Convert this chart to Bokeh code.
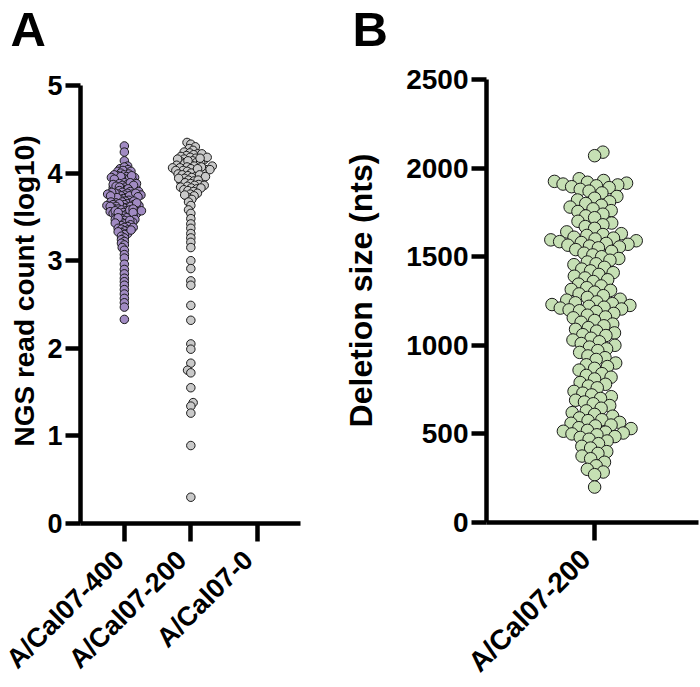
import math
from bokeh.plotting import figure
from bokeh.layouts import row
from bokeh.models import Range1d, FixedTicker, ColumnDataSource, Title, LinearAxis
from bokeh.embed import file_html
from bokeh.resources import INLINE

# ---------------- data ----------------
categories_A = ["A/Cal07-400", "A/Cal07-200", "A/Cal07-0"]
ngs_400 = [4.31, 4.24, 4.14, 4.08, 4.05,
           4.07, 4.04, 4.02, 4.01, 4.03, 4.00, 4.02,
           3.99, 3.98, 3.97, 3.96, 3.95, 3.94, 3.93, 3.92, 3.91, 3.90, 3.98, 3.96, 3.94, 3.92, 3.97, 3.95, 3.93,
           3.89, 3.88, 3.87, 3.86, 3.85, 3.84, 3.83, 3.82, 3.81, 3.80, 3.89, 3.87, 3.85, 3.83, 3.81, 3.88, 3.86, 3.84, 3.82, 3.80,
           3.79, 3.78, 3.77, 3.76, 3.75, 3.74, 3.73, 3.72, 3.71, 3.70, 3.79, 3.77, 3.75, 3.73, 3.71, 3.78, 3.76, 3.74, 3.72, 3.76, 3.74, 3.77, 3.73,
           3.69, 3.68, 3.67, 3.66, 3.65, 3.64, 3.63, 3.62, 3.61, 3.60, 3.68, 3.66, 3.64, 3.62, 3.67, 3.65, 3.63, 3.61, 3.64, 3.66, 3.62, 3.60, 3.62,
           3.59, 3.58, 3.57, 3.56, 3.55, 3.54, 3.53, 3.52, 3.51, 3.50, 3.58, 3.56, 3.54, 3.52, 3.57, 3.55, 3.59, 3.53, 3.51, 3.57, 3.55,
           3.49, 3.48, 3.47, 3.46, 3.45, 3.44, 3.43, 3.42, 3.41, 3.40, 3.47, 3.44, 3.49, 3.46, 3.43, 3.41,
           3.39, 3.38, 3.37, 3.36, 3.35, 3.34, 3.32, 3.31, 3.30, 3.38, 3.35, 3.33,
           3.28, 3.26, 3.24, 3.22, 3.20,
           3.18, 3.15, 3.12,
           3.07, 3.03,
           2.96, 2.90, 2.85, 2.80, 2.76, 2.72, 2.67, 2.62, 2.57, 2.52, 2.47, 2.33]
ngs_200 = [4.35, 4.33, 4.30, 4.28, 4.26,
           4.24, 4.23, 4.22, 4.21, 4.20, 4.22,
           4.19, 4.18, 4.17, 4.16, 4.15, 4.14, 4.13, 4.12, 4.11, 4.10, 4.18, 4.16, 4.14, 4.12, 4.17,
           4.09, 4.08, 4.07, 4.06, 4.05, 4.04, 4.03, 4.02, 4.01, 4.00, 4.08, 4.06, 4.04, 4.02, 4.07, 4.05, 4.03,
           3.99, 3.98, 3.97, 3.96, 3.95, 3.94, 3.93, 3.92, 3.91, 3.90, 3.98, 3.96, 3.94, 3.92,
           3.89, 3.88, 3.87, 3.86, 3.85, 3.84, 3.83, 3.82, 3.81, 3.80, 3.86, 3.83,
           3.79, 3.77, 3.76, 3.74, 3.72, 3.70, 3.75,
           3.67, 3.63, 3.58, 3.54, 3.48, 3.42, 3.37, 3.31, 3.26, 3.21, 3.15, 3.00, 2.91, 2.77, 2.72,
           2.49, 2.32, 2.05, 1.99, 1.83, 1.75, 1.72, 1.55, 1.38, 1.34, 1.26, 0.89, 0.30]
ngs_0 = []
yticks_A = [0, 1, 2, 3, 4, 5]

categories_B = ["A/Cal07-200"]
deletion_200 = [2090, 2070,
                1940, 1930, 1925, 1920, 1915, 1910, 1905, 1900, 1895, 1890, 1880, 1870, 1860,
                1840, 1830, 1820, 1810, 1800, 1790, 1780, 1770, 1760, 1755,
                1740, 1730, 1720, 1700, 1690, 1680, 1670, 1660,
                1640, 1630, 1625, 1620, 1610, 1605, 1600, 1595, 1590, 1585, 1580, 1575, 1570, 1565, 1560, 1555, 1550,
                1540, 1530, 1520, 1510, 1500, 1490, 1480, 1470, 1460, 1455,
                1440, 1430, 1420, 1410, 1400, 1390, 1380, 1370, 1360,
                1345, 1335, 1325, 1315, 1310, 1300, 1290, 1280, 1270, 1260, 1255,
                1245, 1240, 1235, 1230, 1225, 1220, 1215, 1210, 1205, 1200, 1195, 1190, 1180, 1170, 1160, 1155,
                1140, 1130, 1120, 1110, 1100, 1090, 1080, 1070, 1060, 1055,
                1040, 1030, 1020, 1010, 1000, 990, 980, 970, 960,
                940, 930, 920, 900, 890, 880, 870, 860,
                840, 830, 820, 810, 790, 780, 770, 760,
                740, 730, 720, 710, 700, 690, 680, 670, 660,
                645, 630, 620, 610, 600, 590, 580, 575, 565, 560, 550,
                545, 535, 530, 520, 515, 510, 505, 500, 495, 485, 480, 470, 460,
                445, 430, 420, 400, 390, 375, 360,
                340, 320, 300, 285, 270,
                200]
yticks_B = [0, 500, 1000, 1500, 2000, 2500]

colors_A = ["#A18BC3", "#C9C9C9", "#9E9E9E"]
color_B = "#C6E0B4"

FONT = "Liberation Sans"
LABEL_SHIFT_PX = 9  # x tick labels sit slightly left of their tick marks


def swarm(vals, px_per_unit, dmin):
    """Beeswarm offsets (pixels) for values, given vertical px scale."""
    n = len(vals)
    ys = [v * px_per_unit for v in vals]
    order = sorted(range(n), key=lambda i: ys[i])
    placed = []
    xs = [0.0] * n
    for k, i in enumerate(order):
        y = ys[i]
        near = [(px, py) for px, py in placed if abs(py - y) < dmin]
        cands = [0.0]
        for px, py in near:
            dx = math.sqrt(max(dmin ** 2 - (py - y) ** 2, 0.0))
            cands += [px + dx, px - dx]
        sgn = 1 if k % 2 else -1
        cands.sort(key=lambda c: (round(abs(c), 4), sgn * c))
        for c in cands:
            if all((c - px) ** 2 + (y - py) ** 2 >= dmin ** 2 - 1e-6 for px, py in near):
                xs[i] = c
                placed.append((c, y))
                break
    return xs


def style_axes(p, tick_size, ybounds, ticks, names, x0, x1, px_per_x, xlab_size, xlab_standoff):
    xa, ya = p.xaxis[0], p.yaxis[0]
    for ax in (xa, ya):
        ax.axis_line_width = 4.5
        ax.axis_line_color = "black"
        ax.major_tick_line_width = 4.5
        ax.major_tick_line_color = "black"
        ax.major_tick_in = 0
        ax.major_label_text_font = FONT
        ax.major_label_text_font_style = "bold"
        ax.major_label_text_color = "black"
    # y axis
    ya.bounds = ybounds
    ya.minor_tick_line_color = None
    ya.major_label_text_font_size = tick_size
    ya.major_tick_out = 15
    ya.major_label_standoff = 3
    # x axis: labels on a slightly shifted range, tick marks drawn as minor ticks at true spots
    d = LABEL_SHIFT_PX / px_per_x
    p.extra_x_ranges = {"lab": Range1d(x0 + d, x1 + d)}
    xa.x_range_name = "lab"
    xa.ticker = FixedTicker(ticks=ticks, minor_ticks=[t + d for t in ticks])
    xa.major_label_overrides = {t: n for t, n in zip(ticks, names)}
    xa.major_tick_line_color = None
    xa.major_tick_out = 18
    xa.minor_tick_in = 0
    xa.minor_tick_out = 18
    xa.minor_tick_line_width = 4.5
    xa.minor_tick_line_color = "black"
    xa.major_label_orientation = math.pi / 4
    xa.major_label_text_font_size = xlab_size
    xa.major_label_standoff = xlab_standoff
    p.xgrid.grid_line_color = None
    p.ygrid.grid_line_color = None
    p.outline_line_color = None


def add_label_axis(p, text, size, standoff):
    ax = LinearAxis(ticker=FixedTicker(ticks=[]), axis_line_color=None,
                    major_tick_line_color=None, minor_tick_line_color=None,
                    major_label_text_color=None, axis_label=text, axis_label_standoff=standoff,
                    axis_label_text_font=FONT, axis_label_text_font_style="bold",
                    axis_label_text_font_size=size, axis_label_text_color="black")
    p.add_layout(ax, "left")


def add_letter(p, text, offset):
    p.add_layout(Title(text=text, text_font=FONT, text_font_style="bold", text_font_size="49px",
                       text_color="black", align="left", offset=offset, standoff=1,
                       vertical_align="top"), "above")


# ---------------- panel A ----------------
# y scale: 438 px for 0..5; frame extends above 5 so the axis title sits a bit high
fwA, fhA = 220, 465
yA1 = 5 * fhA / 438.0
xA0, xA1 = -0.66, 2.65
pA = figure(frame_width=fwA, frame_height=fhA, output_backend="svg", toolbar_location=None,
            x_range=Range1d(xA0, xA1), y_range=Range1d(0, yA1),
            min_border_left=80, min_border_right=30, min_border_top=58, min_border_bottom=160)
pA_px_y = fhA / yA1
pA_px_x = fwA / (xA1 - xA0)
for ci, (vals, col) in enumerate(zip([ngs_400, ngs_200, ngs_0], colors_A)):
    if not vals:
        continue
    offs = swarm(vals, pA_px_y, 3.4 if ci == 0 else 4.2)
    src = ColumnDataSource(dict(x=[ci + o / pA_px_x for o in offs], y=vals))
    pA.scatter("x", "y", source=src, size=8.5, fill_color=col, line_color="#1a1a1a", line_width=1)

pA.yaxis.ticker = FixedTicker(ticks=yticks_A)
style_axes(pA, "27px", (0, 5), list(range(len(categories_A))), categories_A,
           xA0, xA1, pA_px_x, "27px", 14)
add_label_axis(pA, "NGS read count (log10)", "28px", 5)
add_letter(pA, "A", -70)

# ---------------- panel B ----------------
fwB, fhB = 212, 464
yB1 = 2500 * fhB / 443.0
xB0, xB1 = -0.51, 0.49
pB = figure(frame_width=fwB, frame_height=fhB, output_backend="svg", toolbar_location=None,
            x_range=Range1d(xB0, xB1), y_range=Range1d(0, yB1),
            min_border_left=156, min_border_right=2, min_border_top=58, min_border_bottom=161)
pB_px_y = fhB / yB1
pB_px_x = fwB / (xB1 - xB0)
offsB = swarm(deletion_200, pB_px_y, 9.0)
srcB = ColumnDataSource(dict(x=[o / pB_px_x for o in offsB], y=deletion_200))
pB.scatter("x", "y", source=srcB, size=12.5, fill_color=color_B, line_color="#1a1a1a", line_width=1)
pB.yaxis.ticker = FixedTicker(ticks=yticks_B)
style_axes(pB, "28px", (0, 2500), [0], categories_B, xB0, xB1, pB_px_x, "28px", 14)
add_label_axis(pB, "Deletion size (nts)", "32px", 25)
add_letter(pB, "B", -134)

layout = row(pA, pB, spacing=0)
open("out.html", "w").write(file_html(layout, INLINE))
